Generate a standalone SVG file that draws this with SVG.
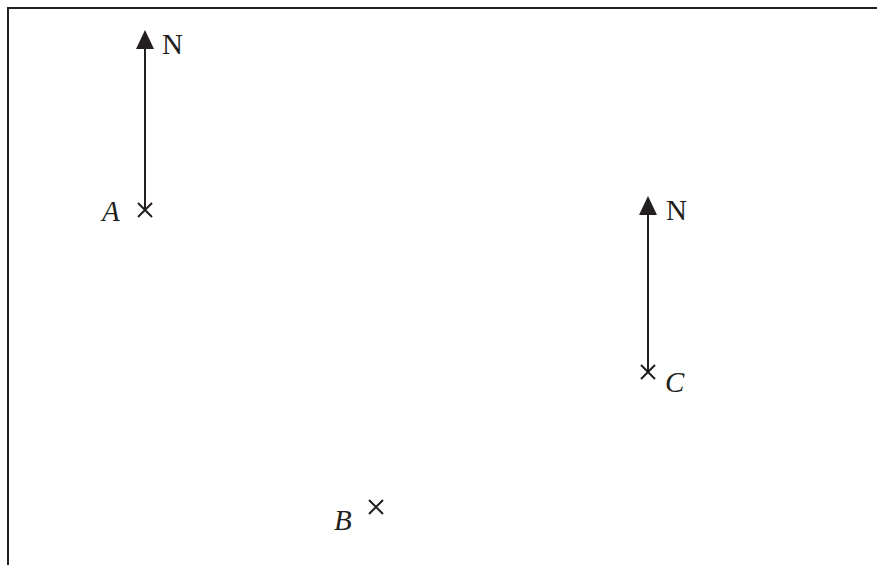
<svg xmlns="http://www.w3.org/2000/svg" width="877" height="565" viewBox="0 0 877 565">
<style>
.ln{stroke:#231f20;stroke-width:2;fill:none}
.x{stroke:#231f20;stroke-width:2;fill:none}
.t{font-family:'Liberation Serif','Times New Roman',serif;font-size:29px;fill:#231f20}
.i{font-style:italic}
</style>
<rect width="877" height="565" fill="#fff"/>
<path class="ln" d="M8,580 V8 H890"/>
<g id="connectors">
<path d="M145,210 V48" class="ln"/>
<path d="M136,49 L145,30 L154,49 Z" fill="#231f20"/>
<path d="M648,372 V214" class="ln"/>
<path d="M639,215 L648,196 L657,215 Z" fill="#231f20"/>
</g>
<g id="A">
<path class="x" d="M138,203 L152,217 M152,203 L138,217"/>
<text class="t i" x="102" y="221">A</text>
</g>
<g id="N1"><text class="t" x="162" y="54">N</text></g>
<g id="C">
<path class="x" d="M641,365 L655,379 M655,365 L641,379"/>
<text class="t i" x="665" y="392">C</text>
</g>
<g id="N2"><text class="t" x="666" y="220">N</text></g>
<g id="B">
<path class="x" d="M369,500 L383,514 M383,500 L369,514"/>
<text class="t i" x="334" y="530">B</text>
</g>
</svg>
